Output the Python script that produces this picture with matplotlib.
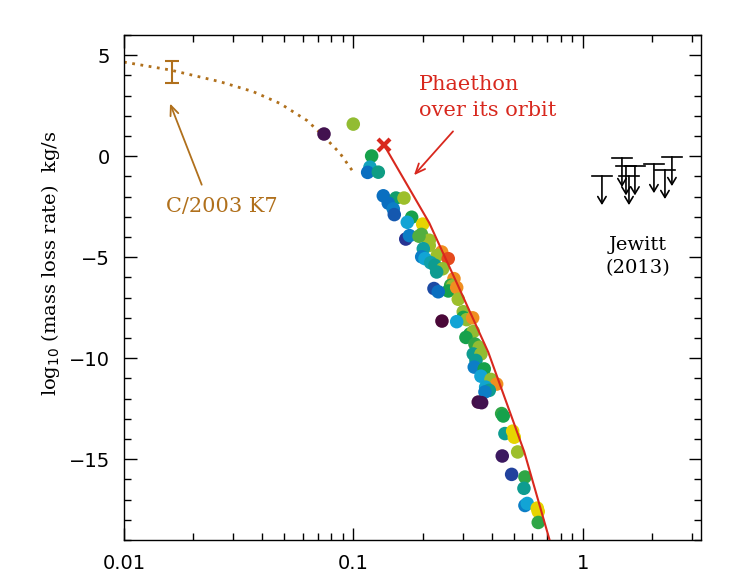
import numpy as np
import matplotlib
matplotlib.use('Agg')
from matplotlib import pyplot as plt
from matplotlib.colors import LinearSegmentedColormap

# comet C/2003 K7 curve (dotted) and its measured point
k7_r = [0.0100, 0.0159, 0.0262, 0.0365, 0.0479, 0.0627, 0.0736, 0.0873, 0.0985]
k7_logm = [4.66, 4.27, 3.69, 3.20, 2.61, 1.77, 1.03, 0.15, -0.69]
k7_pt_r = 0.0162
k7_pt_logm = 4.17
k7_pt_err = 0.56

# Phaethon over its orbit
pha_r = [0.1358, 0.2139, 0.2853, 0.3867, 0.5548, 0.7181]
pha_logm = [0.56, -3.30, -6.40, -9.70, -14.63, -19.06]

# scattered points (r, log mass loss, colour value)
pts_r = [0.0998, 0.0744, 0.120, 0.118, 0.1153, 0.1283, 0.1349, 0.1532, 0.166, 0.1418,
         0.1491, 0.1506, 0.1793, 0.1716, 0.2003, 0.1979, 0.169, 0.1754, 0.2139, 0.193,
         0.2139, 0.2015, 0.2423, 0.2318, 0.2588, 0.1983, 0.2049, 0.2169, 0.2265, 0.2448,
         0.2304, 0.2741, 0.2652, 0.2706, 0.2588, 0.2817, 0.2243, 0.2341, 0.2862, 0.3009,
         0.3009, 0.3113, 0.3307, 0.243, 0.2817, 0.3218, 0.3327, 0.3091, 0.3384, 0.3533,
         0.3327, 0.3594, 0.3418, 0.336, 0.3714, 0.3594, 0.3973, 0.4207, 0.3767, 0.3906,
         0.3741, 0.3498, 0.3619, 0.4423, 0.4494, 0.4571, 0.494, 0.502, 0.5194, 0.445,
         0.489, 0.5588, 0.5532, 0.5588, 0.5718, 0.6323, 0.6386, 0.6386]
pts_logm = [1.59, 1.10, 0.01, -0.54, -0.80, -0.79, -1.96, -2.07, -2.07, -2.32,
            -2.61, -2.89, -3.02, -3.27, -3.36, -3.87, -4.10, -3.93, -4.16, -3.96,
            -4.42, -4.58, -4.74, -4.91, -5.07, -4.98, -5.07, -5.27, -5.40, -5.57,
            -5.73, -6.06, -6.39, -6.42, -6.67, -6.50, -6.55, -6.71, -7.08, -7.70,
            -7.98, -8.09, -8.00, -8.16, -8.19, -8.80, -8.68, -8.97, -9.30, -9.46,
            -9.79, -9.79, -10.11, -10.44, -10.53, -10.89, -11.05, -11.28, -11.43, -11.59,
            -11.67, -12.17, -12.20, -12.74, -12.86, -13.73, -13.61, -13.91, -14.64, -14.84,
            -15.75, -15.88, -16.44, -17.29, -17.19, -17.42, -17.59, -18.13]
pts_c = [0.60, 0.03, 0.50, 0.35, 0.25, 0.42, 0.25, 0.45, 0.62, 0.25,
         0.27, 0.20, 0.50, 0.32, 0.75, 0.55, 0.12, 0.27, 0.62, 0.55,
         0.62, 0.38, 0.85, 0.62, 0.95, 0.27, 0.32, 0.37, 0.40, 0.60,
         0.40, 0.85, 0.52, 0.60, 0.50, 0.85, 0.17, 0.25, 0.62, 0.60,
         0.50, 0.60, 0.85, 0.00, 0.32, 0.50, 0.60, 0.50, 0.52, 0.60,
         0.40, 0.60, 0.40, 0.27, 0.50, 0.32, 0.60, 0.85, 0.33, 0.40,
         0.27, 0.02, 0.03, 0.52, 0.50, 0.40, 0.75, 0.75, 0.62, 0.05,
         0.15, 0.52, 0.40, 0.27, 0.32, 0.75, 0.75, 0.52]

# Jewitt (2013) upper limits
jew_r = [1.210, 1.479, 1.540, 1.587, 1.685, 2.039, 2.277, 2.442]
jew_logm = [-0.97, -0.08, -0.49, -0.97, -0.49, -0.38, -0.67, -0.03]

brown = '#b0701c'
red = '#d8281e'
cmap = LinearSegmentedColormap.from_list('pts', [
    (0.0, '#4a0838'), (0.1, '#2c2c8c'), (0.25, '#0a6ec0'), (0.32, '#12a6d6'),
    (0.40, '#0e9c90'), (0.50, '#14a04c'), (0.60, '#92bc32'), (0.75, '#e6d600'),
    (0.85, '#f09020'), (1.0, '#e02a1c')])

plt.rcParams['font.family'] = 'DejaVu Serif'

fig = plt.figure(figsize=(7.39, 5.78), dpi=100)
ax = fig.add_axes([0.1678, 0.0657, 0.7808, 0.8737])

ax.plot(k7_r, k7_logm, color=brown, lw=2, ls=(0, (1, 2)))
ax.errorbar([k7_pt_r], [k7_pt_logm], yerr=[k7_pt_err], color=brown, lw=1.5,
            capsize=5, capthick=1.5)

ax.scatter(pts_r, pts_logm, c=pts_c, cmap=cmap, vmin=0, vmax=1, s=95,
           edgecolors='none', zorder=3)

ax.plot(pha_r, pha_logm, color=red, lw=1.5, zorder=4)
ax.plot(pha_r[0], pha_logm[0], marker='x', color=red, ms=9, mew=3, zorder=5)

for r, m in zip(jew_r, jew_logm):
    ax.plot([r * 10**-0.045, r * 10**0.045], [m, m], color='k', lw=1.2)
    ax.annotate('', xy=(r, m - 1.45), xytext=(r, m),
                arrowprops=dict(arrowstyle='->,head_length=0.5,head_width=0.3',
                                color='k', lw=1.2, shrinkA=0, shrinkB=0))

ax.text(1.74, -4.97, 'Jewitt\n(2013)', ha='center', va='center', fontsize=14,
        linespacing=1.4)

ax.text(0.01524, -2.78, 'C/2003 K7', color=brown, ha='left', va='baseline', fontsize=15)
ax.annotate('', xy=(0.01587, 2.61), xytext=(0.02181, -1.41),
            arrowprops=dict(arrowstyle='->,head_length=0.7,head_width=0.3',
                            color=brown, lw=1.3, shrinkA=0, shrinkB=0))

ax.text(0.1929, 3.27, 'Phaethon', color=red, ha='left', va='baseline', fontsize=15)
ax.text(0.1929, 1.99, 'over its orbit', color=red, ha='left', va='baseline', fontsize=15)
ax.annotate('', xy=(0.1835, -0.94), xytext=(0.2715, 1.23),
            arrowprops=dict(arrowstyle='->,head_length=0.7,head_width=0.3',
                            color=red, lw=1.3, shrinkA=0, shrinkB=0))

ax.set_xscale('log')
ax.set_xlim(0.01, 3.27)
ax.set_ylim(-19, 6)
ax.set_xticks([0.01, 0.1, 1])
ax.set_xticklabels(['0.01', '0.1', '1'], family='DejaVu Sans')
ax.set_yticks([-15, -10, -5, 0, 5])
ax.set_yticklabels(['\u221215', '\u221210', '\u22125', '0', '5'], family='DejaVu Sans')
ax.yaxis.set_minor_locator(matplotlib.ticker.MultipleLocator(1))
ax.xaxis.set_minor_formatter(matplotlib.ticker.NullFormatter())
ax.tick_params(which='both', direction='in', top=True, right=True, labelsize=14,
               width=1)
ax.tick_params(which='major', length=9, pad=10)
ax.tick_params(which='minor', length=5)
for s in ax.spines.values():
    s.set_linewidth(1)

ax.set_ylabel('log$_{10}$ (mass loss rate)  kg/s', fontsize=14)
ax.yaxis.set_label_coords(-0.107, 0.548)

fig.savefig('out.png', dpi=100)
